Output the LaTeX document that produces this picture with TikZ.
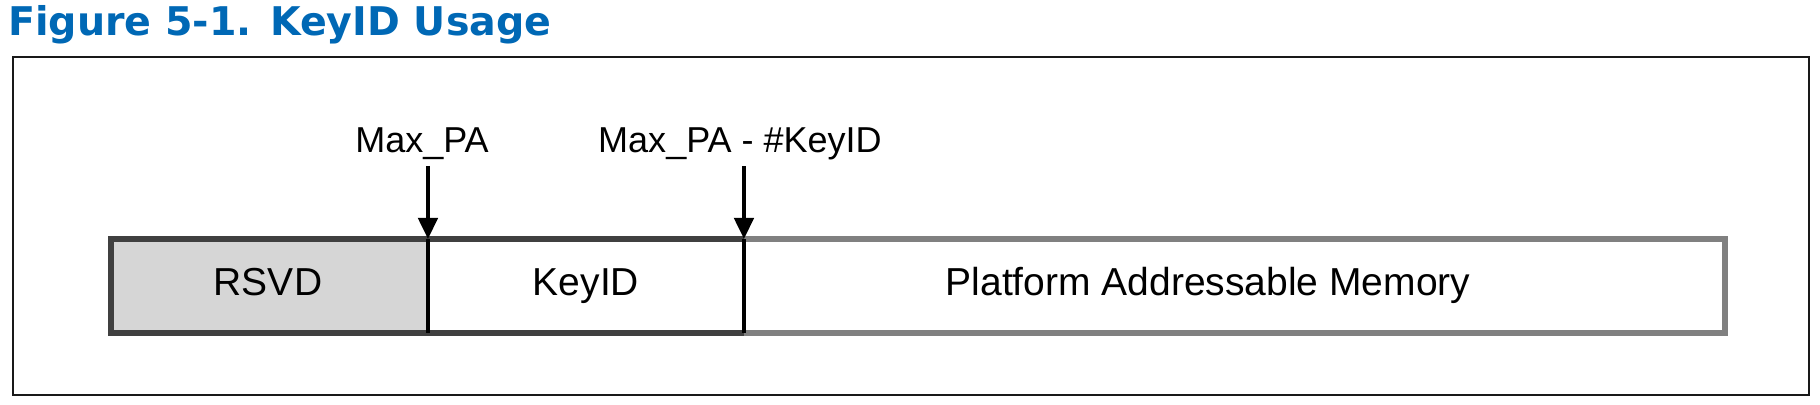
\documentclass[tikz,border=0pt]{standalone}
\usepackage{fontspec}
\setmainfont{Liberation Sans}
\newfontfamily\titlefont{DejaVu Sans}
\usepackage{xcolor}
\definecolor{TitleBlue} {RGB}{0, 104, 181}
\definecolor{EdgeDark}  {RGB}{64,  64,  64}
\definecolor{EdgeGray}  {RGB}{128, 128, 128}
\definecolor{RsvdGray}  {RGB}{214, 214, 214}
\usepackage{tikz}
\usetikzlibrary{
  arrows.meta,
  positioning
}

\begin{document}
\begin{tikzpicture}[
  x=0.02cm, y=-0.02cm,
  title/.style={
    font=\titlefont\bfseries\fontsize{22.5}{26}\selectfont,
    text=TitleBlue, inner sep=0pt, anchor=base west},
  bar/.style={
    draw=none, inner sep=0pt, outer sep=0pt,
    minimum height=1.88cm,
    font=\fontsize{22.2}{26}\selectfont},
  marker/.style={
    font=\fontsize{20.5}{24}\selectfont,
    inner sep=0pt, anchor=base},
  darkedge/.style={draw=EdgeDark, line width=3.8pt},
  grayedge/.style={draw=EdgeGray, line width=3.8pt},
  divider/.style={draw=black, line width=2.2pt},
  arrow/.style={
    -{Triangle[width=11pt,length=12pt]},
    line width=2.2pt, color=black},
  frame/.style={draw=black!90, line width=1.2pt}
]
\useasboundingbox (0,0) rectangle (1820,405);

\node[title] (ttl) at (8,36) {Figure 5-1. KeyID Usage};

\draw[frame] (13,57) rectangle (1809,395);

% the three address ranges
\node[bar, fill=RsvdGray, minimum width=6.34cm] (rsvd) at (269.5,286) {};
\node[bar, fill=white, minimum width=6.32cm] (keyid) at (586,286) {};
\node[bar, fill=white, minimum width=19.62cm] (pam) at (1234.5,286) {};

\node[bar, anchor=base] (trsvd) at (268,296) {RSVD};
\node[bar, anchor=base] (tkeyid) at (586,296) {KeyID};
\node[bar, anchor=base] (tpam) at (1208,296) {Platform Addressable Memory};

\draw[grayedge] (pam.north west) -- (pam.north east)
  -- (pam.south east) -- (pam.south west);
\draw[darkedge] (keyid.north east) -- (rsvd.north west)
  -- (rsvd.south west) -- (keyid.south east);

\draw[divider] (rsvd.north east) -- (rsvd.south east);
\draw[divider] (keyid.north east) -- (keyid.south east);

% boundaries
\node[marker] (maxpa) at (422,153) {Max\_PA};
\node[marker] (maxkey) at (740,153) {Max\_PA - \#KeyID};

\draw[arrow] ([yshift=-3pt]rsvd.north east |- maxpa.south)
  -- (rsvd.north east);
\draw[arrow] ([yshift=-3pt]keyid.north east |- maxkey.south)
  -- (keyid.north east);
\end{tikzpicture}
\end{document}
